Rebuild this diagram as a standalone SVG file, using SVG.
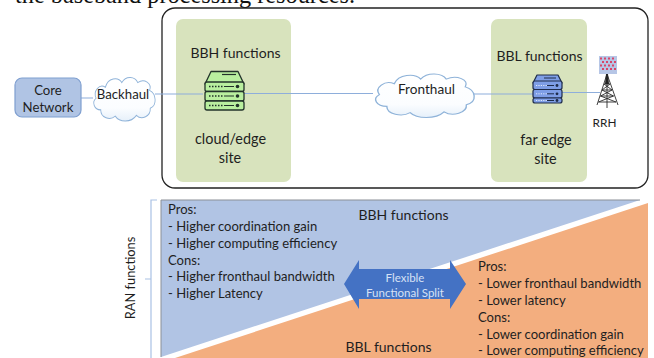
<svg xmlns="http://www.w3.org/2000/svg" width="654" height="358" viewBox="0 0 654 358">
<style>
text{font-family:"Lato","Carlito","Liberation Sans",sans-serif;fill:#1f1f1f;font-size:14px}
.m{text-anchor:middle}
.s{font-size:13.05px}
.t{font-size:13.2px}
.l{font-size:14.4px}
.site{fill:#d8e3bd}
.ln{fill:none;stroke:#8eaedb;stroke-width:1.2}
.cl{fill:url(#cg);stroke:#8fb3d9;stroke-width:1.3;vector-effect:non-scaling-stroke}
.sv{stroke:#22332a;stroke-width:1.3;stroke-linejoin:round}
.sb{stroke:#1f2c4a;stroke-width:1.2;stroke-linejoin:round}
</style>
<defs>
<linearGradient id="cg" x1="0" y1="0" x2="0" y2="1"><stop offset="0" stop-color="#ffffff"/><stop offset="0.7" stop-color="#fbfdff"/><stop offset="1" stop-color="#e6f0fa"/></linearGradient>
<path id="cloud" d="M14 46C4 46 0 36 7 31C2 22 12 12 21 17C25 5 40 3 46 11C52 2 66 3 70 11C80 5 92 12 88 21C98 25 100 40 89 44C90 54 76 60 68 53C60 63 42 62 36 54C28 60 14 56 14 46Z"/>
</defs>
<rect width="654" height="358" fill="#ffffff"/>
<text x="15" y="3" style="font-family:'Liberation Serif',serif;font-size:24.300px;fill:#111">the baseband processing resources.</text>

<g id="edge-box"><rect x="162" y="8" width="486" height="180" rx="13" fill="#fff" stroke="#222" stroke-width="1.3"/></g>
<g id="cloud-edge-site"><rect class="site" x="176" y="19" width="115" height="163" rx="7"/>
<text class="m" x="235.500" y="58">BBH functions</text>
<text class="m l" x="230.500" y="144">cloud/edge</text><text class="m l" x="230" y="163">site</text></g>
<g id="far-edge-site"><rect class="site" x="491" y="19" width="96" height="163" rx="7"/>
<text class="m" x="539.500" y="61">BBL functions</text>
<text class="m l" x="546" y="145">far edge</text><text class="m l" x="545.500" y="164">site</text></g>

<g id="connectors">
<path class="ln" d="M81 98H93M155 94H203M244 93.500H373M474 94H533M561 92.500H600"/>
</g>

<g id="core-network"><rect x="15" y="78" width="66" height="39" rx="7" fill="#b0c4e4" stroke="#7f9fd0" stroke-width="1.2"/>
<text class="m t" x="48" y="95">Core</text><text class="m t" x="48" y="112">Network</text></g>
<g id="backhaul"><use href="#cloud" class="cl" transform="translate(91.500 74) scale(.66 .78)"/>
<text class="m t" x="123" y="99">Backhaul</text></g>
<g id="fronthaul"><use href="#cloud" class="cl" transform="translate(372 70.500) scale(1.06 .78)"/>
<text class="m" x="426.500" y="94" style="font-size:13.600px">Fronthaul</text></g>

<g id="bbh-server">
<path class="sv" fill="#b9ef9f" d="M205 84L211 71.500H238L244 84Z"/>
<path d="M222 74.500H236" stroke="#22332a" stroke-width="1.200"/>
<rect class="sv" x="205" y="82" width="39" height="9.500" rx="2" fill="#b9ef9f"/>
<rect class="sv" x="205" y="91.500" width="39" height="9.500" rx="2" fill="#b9ef9f"/>
<rect class="sv" x="205" y="101" width="39" height="9" rx="2" fill="#b9ef9f"/>
<path d="M209 86.500H224M209 96H224M209 105.500H224" stroke="#22332a" stroke-width="1.300" stroke-dasharray="1.500 1.500"/>
<path d="M224 86.500H234M224 96H234M224 105.500H234" stroke="#22332a" stroke-width="1.200"/>
<circle cx="237.500" cy="86.500" r="1.800" fill="#22332a"/><circle cx="237.500" cy="96" r="1.800" fill="#22332a"/><circle cx="237.500" cy="105.500" r="1.800" fill="#22332a"/>
</g>
<g id="bbl-server">
<path class="sb" fill="#7e9ee6" d="M533 83L537 75H558L562 83Z"/>
<path d="M544 78H556" stroke="#1f2c4a" stroke-width="1"/>
<rect class="sb" x="533" y="81" width="29" height="8.500" rx="2" fill="#7e9ee6"/>
<rect class="sb" x="533" y="89.500" width="29" height="8.500" rx="2" fill="#7e9ee6"/>
<rect class="sb" x="533" y="98" width="29" height="5" rx="2" fill="#7e9ee6"/>
<path d="M536 85.500H547M536 93.800H547M536 100.500H547" stroke="#dfe8fa" stroke-width="1" stroke-dasharray="1.200 1.200"/>
<path d="M547 85.500H554M547 93.800H554M547 100.500H554" stroke="#1f2c4a" stroke-width="1"/>
<circle cx="557" cy="85.500" r="1.400" fill="#1f2c4a"/><circle cx="557" cy="93.800" r="1.400" fill="#1f2c4a"/><circle cx="557" cy="100.500" r="1.400" fill="#1f2c4a"/>
</g>
<g id="rrh">
<rect x="599" y="56" width="18" height="18" fill="#b6c6e6"/>
<g fill="#d8466a"><rect x="600" y="57.500" width="2" height="2"/><rect x="604" y="57.500" width="2" height="2"/><rect x="608" y="57.500" width="2" height="2"/><rect x="612" y="57.500" width="2" height="2"/>
<rect x="602" y="61" width="2" height="2"/><rect x="606" y="61" width="2" height="2"/><rect x="610" y="61" width="2" height="2"/><rect x="614" y="61" width="2" height="2"/>
<rect x="600" y="64.500" width="2" height="2"/><rect x="604" y="64.500" width="2" height="2"/><rect x="608" y="64.500" width="2" height="2"/><rect x="612" y="64.500" width="2" height="2"/>
<rect x="602" y="68" width="2" height="2"/><rect x="606" y="68" width="2" height="2"/><rect x="610" y="68" width="2" height="2"/><rect x="614" y="68" width="2" height="2"/></g>
<path d="M607 74L597 105M607 74L618 105M607 74V108M604 84H610M602 90H612M600.500 96H613.500M598.500 102H616M604 84L612 90M610 84L602 90M602 90L613.500 96M612 90L600.500 96M600.500 96L616 102M613.500 96L598.500 102" fill="none" stroke="#2b2b2b" stroke-width=".9"/>
<path d="M606 74H608L609 84H605Z" fill="#222"/>
<text class="m" x="604.500" y="127" style="font-size:11.800px">RRH</text>
</g>

<g id="split-chart">
<path d="M161 200H640L161 357Z" fill="#b1c4e4"/>
<path d="M161 357V200H640" fill="none" stroke="#8b8f96" stroke-width="1"/>
<path d="M648 203V358H175Z" fill="#f3ae7f"/>
<path d="M151 358V200H157M151 279H145" fill="none" stroke="#a9c1e4" stroke-width="1.200"/>
<text class="m" transform="translate(135 278) rotate(-90)" style="font-size:12.800px">RAN functions</text>
<text class="m" x="403.500" y="220">BBH functions</text>
<text class="m" x="388.500" y="352">BBL functions</text>
<g>
<text class="s" x="168" y="214">Pros:</text>
<text class="s" x="168" y="231">- Higher coordination gain</text>
<text class="s" x="168" y="248">- Higher computing efficiency</text>
<text class="s" x="168" y="265">Cons:</text>
<text class="s" x="168" y="281">- Higher fronthaul bandwidth</text>
<text class="s" x="168" y="298">- Higher Latency</text>
<text class="s" x="478" y="271">Pros:</text>
<text class="s" x="478" y="288">- Lower fronthaul bandwidth</text>
<text class="s" x="478" y="305">- Lower latency</text>
<text class="s" x="478" y="322">Cons:</text>
<text class="s" x="478" y="339">- Lower coordination gain</text>
<text class="s" x="478" y="355">- Lower computing efficiency</text>
</g>
<path d="M344 284L359 260V269H450V260L466 284L450 309V299H359V309Z" fill="#4472c4"/>
<text class="m" x="405" y="282" style="font-size:11.500px;fill:#d6e1f5">Flexible</text>
<text class="m" x="405" y="297" style="font-size:11.500px;fill:#d6e1f5">Functional Split</text>
</g>
</svg>
